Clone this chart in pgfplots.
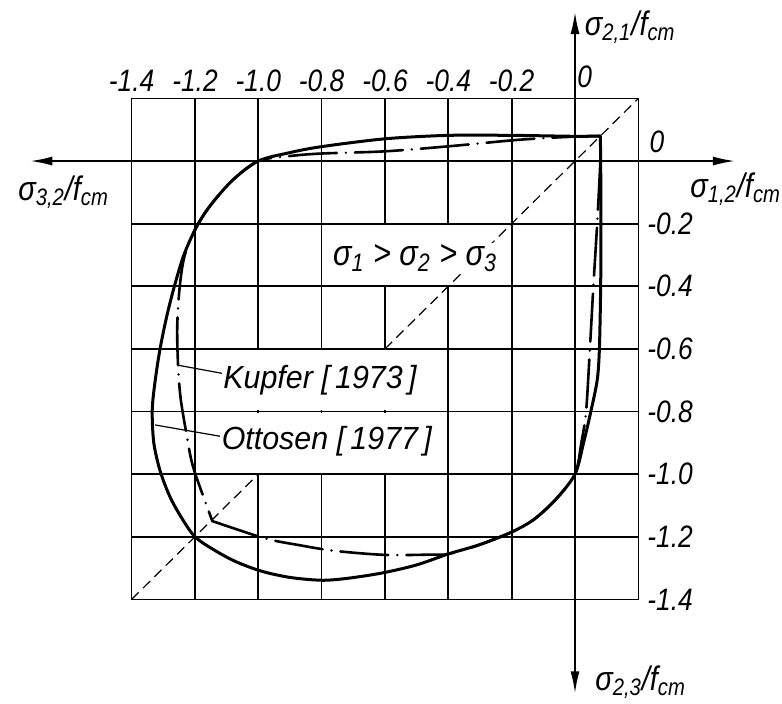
\documentclass[border=0pt]{standalone}
\usepackage{fontspec}
\usepackage{pgfplots}
\pgfplotsset{compat=1.18}
\usetikzlibrary{arrows.meta}
\newfontfamily\din{Liberation Sans}[FakeStretch=0.85]
\newfontfamily\dinw{Liberation Sans}[FakeStretch=0.95]
\newcommand{\lab}[2]{σ\textsubscript{#1}/\textit{f}\textsubscript{#2}}

\begin{document}
\begin{tikzpicture}
\begin{axis}[
    scale only axis, width=253.3pt, height=250.4pt,
    xmin=-1.4, xmax=0.2, ymin=-1.4, ymax=0.2,
    xtick={-1.4,-1.2,-1,-0.8,-0.6,-0.4,-0.2,0,0.2},
    ytick={-1.4,-1.2,-1,-0.8,-0.6,-0.4,-0.2,0,0.2},
    xticklabels={-1.4,-1.2,-1.0,-0.8,-0.6,-0.4,-0.2,{},{}},
    yticklabels={-1.4,-1.2,-1.0,-0.8,-0.6,-0.4,-0.2,{},{}},
    xticklabel pos=upper, yticklabel pos=right,
    major tick length=0pt,
    grid=major, grid style={black, line width=0.85pt},
    axis line style={black, line width=0.85pt},
    tick label style={font=\din\itshape\fontsize{15.5}{18}\selectfont},
    yticklabel style={xshift=1pt},
    clip=false,
]
% picture extent
\path (axis cs:-1.8156,0.5144) rectangle (axis cs:0.6536,-1.7316);

% blank grid cells behind the labels
\fill[white] (axis cs:-0.795,-0.205) rectangle (axis cs:-0.205,-0.395);
\fill[white] (axis cs:-1.195,-0.605) rectangle (axis cs:-0.405,-0.795);
\fill[white] (axis cs:-1.195,-0.805) rectangle (axis cs:-0.405,-0.995);

% diagonal sigma1 = sigma2
\addplot[black, line width=0.6pt, dash pattern=on 5pt off 3pt] coordinates {(-1.4,-1.4) (-1.0,-1.0)};
\addplot[black, line width=0.6pt, dash pattern=on 5pt off 3pt] coordinates {(-0.6,-0.6) (0.2,0.2)};

\node[fill=white, inner sep=1pt, font=\din\itshape\fontsize{18}{20}\selectfont]
    at (axis cs:-0.505,-0.31) {σ\textsubscript{1} > σ\textsubscript{2} > σ\textsubscript{3}};

% Ottosen [1977]
\addplot[black, line width=1.5pt, smooth, tension=0.5, mark=none] coordinates {
(0.08,0.08) (0.0,0.079) (-0.2,0.082) (-0.4,0.082) (-0.6,0.071) (-0.8,0.046)
(-0.9,0.027) (-1.0,0.0) (-1.08,-0.06) (-1.15,-0.14) (-1.195,-0.21) (-1.235,-0.3)
(-1.265,-0.4) (-1.29,-0.5) (-1.312,-0.61) (-1.328,-0.72) (-1.335,-0.8) (-1.33,-0.9)
(-1.31,-0.99) (-1.28,-1.07) (-1.245,-1.135) (-1.2,-1.2) (-1.135,-1.245) (-1.07,-1.28)
(-0.99,-1.31) (-0.9,-1.33) (-0.8,-1.339) (-0.72,-1.333) (-0.61,-1.316) (-0.5,-1.29)
(-0.4,-1.255) (-0.3,-1.225) (-0.2,-1.185) (-0.13,-1.145) (-0.06,-1.08) (0.0,-1.0)
(0.027,-0.9) (0.05,-0.8) (0.07,-0.7) (0.077,-0.6) (0.081,-0.4) (0.082,-0.2)
(0.081,0.0) (0.08,0.08)};

% Kupfer [1973]
\addplot[black, line width=1.3pt, smooth, tension=0.5, mark=none, line cap=round,
    dash pattern=on 24pt off 4.5pt on 0pt off 4.5pt] coordinates {
(0.08,0.08) (0.0,0.078) (-0.1,0.073) (-0.2,0.066) (-0.4,0.047) (-0.6,0.031)
(-0.8,0.024) (-0.9,0.016) (-1.0,0.0) (-1.08,-0.06) (-1.15,-0.14) (-1.195,-0.21)
(-1.232,-0.3) (-1.248,-0.4) (-1.256,-0.53) (-1.253,-0.66) (-1.245,-0.76)
(-1.227,-0.87) (-1.205,-0.98) (-1.145,-1.15)};
\addplot[black, line width=1.3pt, smooth, tension=0.5, mark=none, line cap=round,
    dash pattern=on 24pt off 4.5pt on 0pt off 4.5pt] coordinates {
(-1.145,-1.15) (-0.98,-1.205) (-0.87,-1.227) (-0.76,-1.245) (-0.6,-1.258)
(-0.45,-1.257) (-0.4,-1.255) (-0.3,-1.225) (-0.2,-1.185) (-0.13,-1.145)
(-0.06,-1.08) (0.0,-1.0) (0.02,-0.9) (0.035,-0.8) (0.047,-0.6) (0.058,-0.4)
(0.07,-0.2) (0.08,0.0) (0.08,0.08)};

% labels of the curves
\draw[line width=0.6pt] (axis cs:-1.254,-0.652) -- (axis cs:-1.115,-0.678);
\draw[line width=0.6pt] (axis cs:-1.326,-0.843) -- (axis cs:-1.121,-0.879);
\node[anchor=west, inner sep=1pt, font=\dinw\itshape\fontsize{16}{18}\selectfont]
    at (axis cs:-1.118,-0.70) {Kupfer [\,1973\,]};
\node[anchor=west, inner sep=1pt, font=\dinw\itshape\fontsize{16}{18}\selectfont]
    at (axis cs:-1.123,-0.895) {Ottosen [\,1977\,]};

% axes with arrows
\draw[line width=0.9pt, {Latex[length=11pt,width=4.5pt]}-{Latex[length=11pt,width=4.5pt]}]
    (axis cs:-1.72,0) -- (axis cs:0.505,0);
\draw[line width=0.9pt, {Latex[length=11pt,width=4.5pt]}-{Latex[length=11pt,width=4.5pt]}]
    (axis cs:0,-1.70) -- (axis cs:0,0.476);

% zero labels
\node[anchor=south west, inner sep=0pt, font=\din\itshape\fontsize{15.5}{18}\selectfont]
    at (axis cs:0.006,0.233) {0};
\node[anchor=south west, inner sep=0pt, font=\din\itshape\fontsize{15.5}{18}\selectfont]
    at (axis cs:0.234,0.026) {0};

% axis names
\node[anchor=base west, inner sep=0pt, font=\din\itshape\fontsize{17}{20}\selectfont]
    at (axis cs:0.03,0.40) {\lab{2,1}{cm}};
\node[anchor=base west, inner sep=0pt, font=\din\itshape\fontsize{17}{20}\selectfont]
    at (axis cs:0.363,-0.115) {\lab{1,2}{cm}};
\node[anchor=base west, inner sep=0pt, font=\din\itshape\fontsize{17}{20}\selectfont]
    at (axis cs:-1.759,-0.125) {\lab{3,2}{cm}};
\node[anchor=base west, inner sep=0pt, font=\din\itshape\fontsize{17}{20}\selectfont]
    at (axis cs:0.063,-1.69) {\lab{2,3}{cm}};
\end{axis}
\end{tikzpicture}
\end{document}
